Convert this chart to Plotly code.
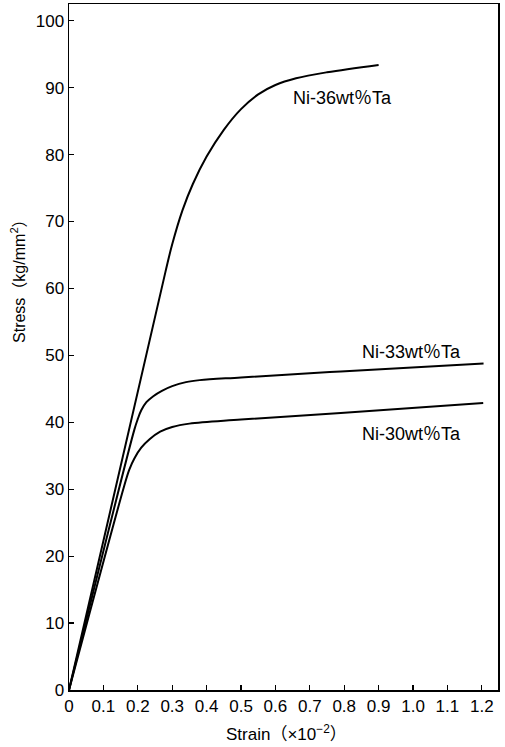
import plotly.graph_objects as go

# Ni-36wt%Ta
strain_36 = [0, 0.28, 0.30, 0.33, 0.36, 0.40, 0.45, 0.50, 0.55, 0.60, 0.66, 0.75, 0.90]
stress_36 = [0, 62.4, 66.6, 71.7, 75.6, 79.7, 83.7, 86.8, 89.0, 90.4, 91.4, 92.3, 93.4]
# Ni-33wt%Ta
strain_33 = [0, 0.19, 0.20, 0.21, 0.225, 0.245, 0.27, 0.30, 0.34, 0.38, 0.50, 0.79, 1.205]
stress_33 = [0, 38.9, 40.5, 41.8, 43.0, 43.9, 44.7, 45.4, 46.0, 46.3, 46.7, 47.6, 48.8]
# Ni-30wt%Ta
strain_30 = [0, 0.16, 0.175, 0.19, 0.21, 0.235, 0.265, 0.30, 0.35, 0.50, 0.79, 1.204]
stress_30 = [0, 30.4, 32.9, 34.6, 36.2, 37.5, 38.6, 39.3, 39.8, 40.4, 41.4, 42.9]

labels = ["Ni-36wt％Ta", "Ni-33wt％Ta", "Ni-30wt％Ta"]
label_x = [0.795, 0.995, 0.997]
label_y = [88.5, 50.5, 38.3]

x_ticks = [0, 0.1, 0.2, 0.3, 0.4, 0.5, 0.6, 0.7, 0.8, 0.9, 1.0, 1.1, 1.2]
x_ticktext = ["0", "0.1", "0.2", "0.3", "0.4", "0.5", "0.6", "0.7", "0.8", "0.9", "1.0", "1.1", "1.2"]
y_ticks = [0, 10, 20, 30, 40, 50, 60, 70, 80, 90, 100]

FONT = "Liberation Sans, Noto Sans CJK JP, sans-serif"

fig = go.Figure()
for sx, sy in [(strain_36, stress_36), (strain_33, stress_33), (strain_30, stress_30)]:
    fig.add_trace(go.Scatter(x=sx, y=sy, mode="lines",
                             line=dict(color="black", width=2, shape="spline", smoothing=1.0),
                             showlegend=False, hoverinfo="skip"))

for t, lx, ly in zip(labels, label_x, label_y):
    fig.add_annotation(x=lx, y=ly, text=t, showarrow=False, xref="x", yref="y",
                       font=dict(family=FONT, size=18, color="black"))

fig.add_annotation(text="Stress（kg/mm<sup>2</sup>）", xref="paper", yref="paper",
                   x=-0.119, y=0.602, xanchor="center", yanchor="middle",
                   textangle=-90, showarrow=False,
                   font=dict(family=FONT, size=16, color="black"))
fig.add_annotation(text="Strain（×10<sup>−2</sup>）", xref="paper", yref="paper",
                   x=0.506, y=-0.063, xanchor="center", yanchor="middle",
                   showarrow=False,
                   font=dict(family=FONT, size=17, color="black"))

axis_common = dict(showgrid=False, zeroline=False, showline=True, linecolor="black",
                   linewidth=1.5, mirror=True, ticks="inside", ticklen=5,
                   tickcolor="black", tickwidth=1.2, automargin=False,
                   tickfont=dict(family=FONT, size=17, color="black"))
fig.update_xaxes(range=[0, 1.247], tickvals=x_ticks, ticktext=x_ticktext, **axis_common)
fig.update_yaxes(range=[0, 102.5], tickvals=y_ticks, **axis_common)

fig.update_layout(width=505, height=747, margin=dict(l=69, r=7, t=4, b=57, autoexpand=False),
                  plot_bgcolor="white", paper_bgcolor="white")

fig.write_html("out.html", config={"displayModeBar": False, "staticPlot": True},
               post_script="document.body.style.margin='0';document.body.style.padding='0';")
